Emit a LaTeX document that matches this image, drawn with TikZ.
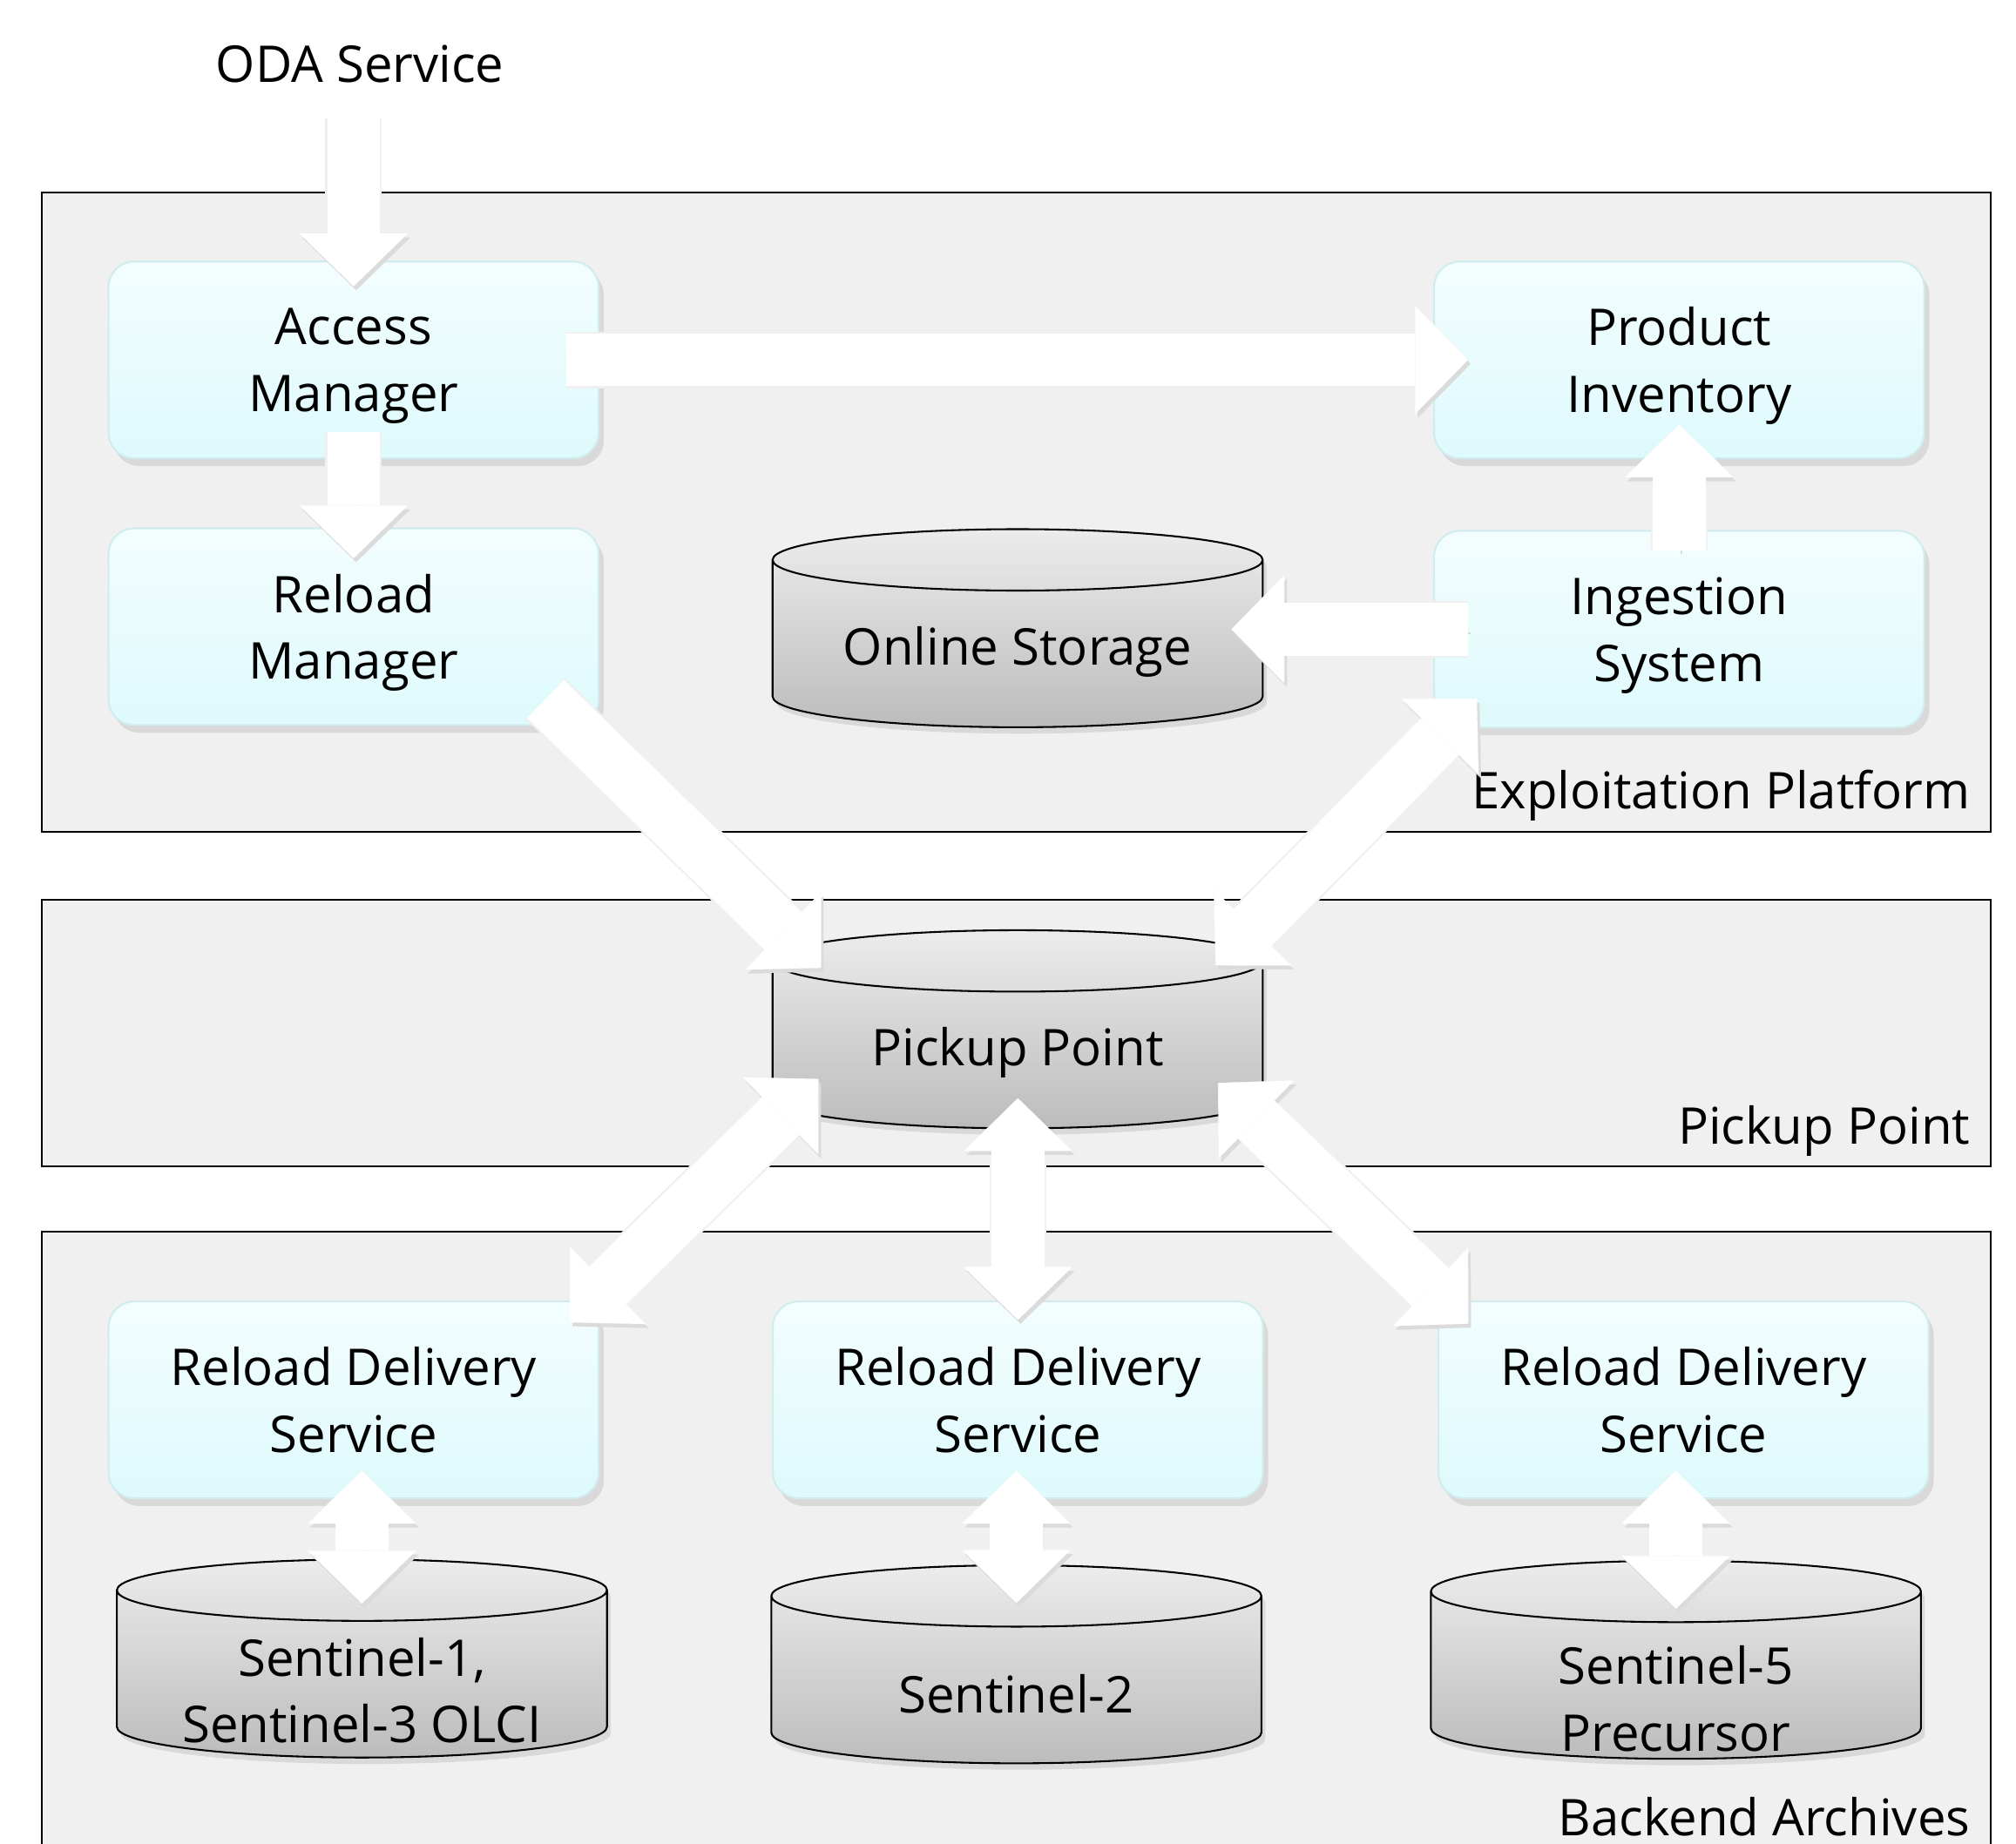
\documentclass[tikz,border=0pt]{standalone}
\usepackage{fontspec}
\setmainfont{Open Sans}
\usepackage{tikz}
\usetikzlibrary{arrows.meta,positioning,shapes.geometric,shadows}

\definecolor{groupgray}{RGB}{240,240,240}
\definecolor{boxtop}{RGB}{243,253,254}
\definecolor{boxbot}{RGB}{222,250,252}
\definecolor{boxline}{RGB}{208,236,238}
\definecolor{cyltop}{RGB}{236,236,236}
\definecolor{cylbot}{RGB}{188,188,188}

\newcommand{\drum}{\phantom{Online Storage}}

\begin{document}
\begin{tikzpicture}[x=0.01cm, y=-0.01cm,
  every node/.style={font=\fontsize{11.2}{14.8}\selectfont, align=center},
  group/.style={draw=black, line width=0.4pt, fill=groupgray, minimum width=15.15cm, inner sep=0pt},
  grouplabel/.style={anchor=base east, inner sep=0pt},
  module/.style={rounded corners=2mm, draw=boxline, line width=0.4pt, top color=boxtop, bottom color=boxbot,
    minimum width=3.81cm, minimum height=1.53cm, text depth=0pt,
    drop shadow={opacity=0.2, shadow xshift=0.4mm, shadow yshift=-0.6mm}},
  store/.style={cylinder, shape border rotate=90, aspect=0.176, draw=black, line width=0.4pt, inner sep=0pt,
    top color=cyltop, bottom color=cylbot, minimum width=3.81cm, minimum height=1.54cm,
    drop shadow={opacity=0.2, shadow xshift=0.3mm, shadow yshift=-0.5mm}},
  storetext/.style={inner sep=0pt},
  arrowshade/.style={preaction={draw=black!6, line width=4.4mm},
    preaction={draw=black!14, transform canvas={shift={(0.2mm,-0.3mm)}}}},
  blockarrow/.style={draw=white, line width=4.1mm, arrowshade,
    -{Triangle[length=4.1mm, width=8.4mm, line width=0.01pt]}},
  twoway/.style={blockarrow,
    {Triangle[length=4.1mm, width=8.4mm, line width=0.01pt]}-{Triangle[length=4.1mm, width=8.4mm, line width=0.01pt]}}
]
\fill[white] (0,0) rectangle (1568,1434);
\useasboundingbox (0,0) rectangle (1568,1434);

% layers
\node[group, minimum height=4.97cm] (expl) at (790.5,398.5) {};
\node[group, minimum height=2.07cm] (pick) at (790.5,803.5) {};
\node[group, minimum height=5.2cm] (back) at (790.5,1218) {};
\node[grouplabel] (expllabel) at (1533,629) {Exploitation Platform};
\node[grouplabel] (picklabel) at (1533,890) {Pickup Point};
\node[grouplabel] (backlabel) at (1533,1428) {Backend Archives};

\node (oda) at (280,50) {ODA Service};

% exploitation platform
\node[module] (access) at (275,280) {Access\\Manager};
\node[module, below=0.53cm of access] (reload) {Reload\\Manager};
\node[module, right=6.48cm of access] (product) {Product\\Inventory};
\node[module, below=0.55cm of product] (ingest) {Ingestion\\System};
\node[store] (online) at (791.5,501) {\drum};
\node[storetext] (onlinetext) at (791.5,507) {Online Storage};

% pickup point
\node[store] (pickup) at (791.5,813) {\drum};
\node[storetext] (pickuptext) at (791.5,819) {Pickup Point};

% backend archives
\node[module] (rds1) at (275,1089) {Reload Delivery\\Service};
\node[module, right=1.34cm of rds1] (rds2) {Reload Delivery\\Service};
\node[module, right=1.35cm of rds2] (rds3) {Reload Delivery\\Service};
\node[store] (sen1) at (281.5,1302.5) {\drum};
\node[store] (sen2) at (790.5,1307) {\drum};
\node[store] (sen5) at (1303.5,1303.5) {\drum};
\node[storetext] (sen1text) at (281.5,1315) {Sentinel-1,\\Sentinel-3 OLCI};
\node[storetext] (sen2text) at (790.5,1318) {Sentinel-2};
\node[storetext] (sen5text) at (1303.5,1321.5) {Sentinel-5\\Precursor};

% flows
\draw[blockarrow, shorten <=1.5mm, shorten >=-2mm] (oda.south -| access.north) -- (access.north);
\draw[blockarrow, shorten <=-2.1mm, shorten >=-2.4mm] (access.south) -- (access.south |- reload.north);
\draw[blockarrow, shorten <=-2.6mm, shorten >=-2.7mm] (access.east) -- (access.east -| product.west);
\draw[blockarrow, shorten <=-1.6mm, shorten >=-2.7mm] (ingest.north) -- (ingest.north |- product.south);
\draw[blockarrow, shorten <=-2.7mm, shorten >=-2.5mm] (ingest.west) -- (ingest.west -| online.east);
\draw[blockarrow] ([shift={(-42,-21)}]reload.south east) -- ([shift={(-153,30)}]pickup.north);
\draw[twoway] ([shift={(154,28)}]pickup.north) -- ([shift={(34,-23)}]ingest.south west);
\draw[twoway] ([shift={(-155,-39)}]pickup.south) -- ([shift={(-23,17)}]rds1.north east);
\draw[twoway, shorten <=-2.4mm, shorten >=-1.5mm] (pickup.south -| rds2.north) -- (rds2.north);
\draw[twoway] ([shift={(156,-36)}]pickup.south) -- ([shift={(24,18)}]rds3.north west);
\draw[twoway, shorten <=-2.2mm, shorten >=-3.5mm] (rds1.south -| sen1.north) -- (sen1.north);
\draw[twoway, shorten <=-2.2mm, shorten >=-3mm] (rds2.south -| sen2.north) -- (sen2.north);
\draw[twoway, shorten <=-2.2mm, shorten >=-3.8mm] (rds3.south -| sen5.north) -- (sen5.north);
\end{tikzpicture}
\end{document}
